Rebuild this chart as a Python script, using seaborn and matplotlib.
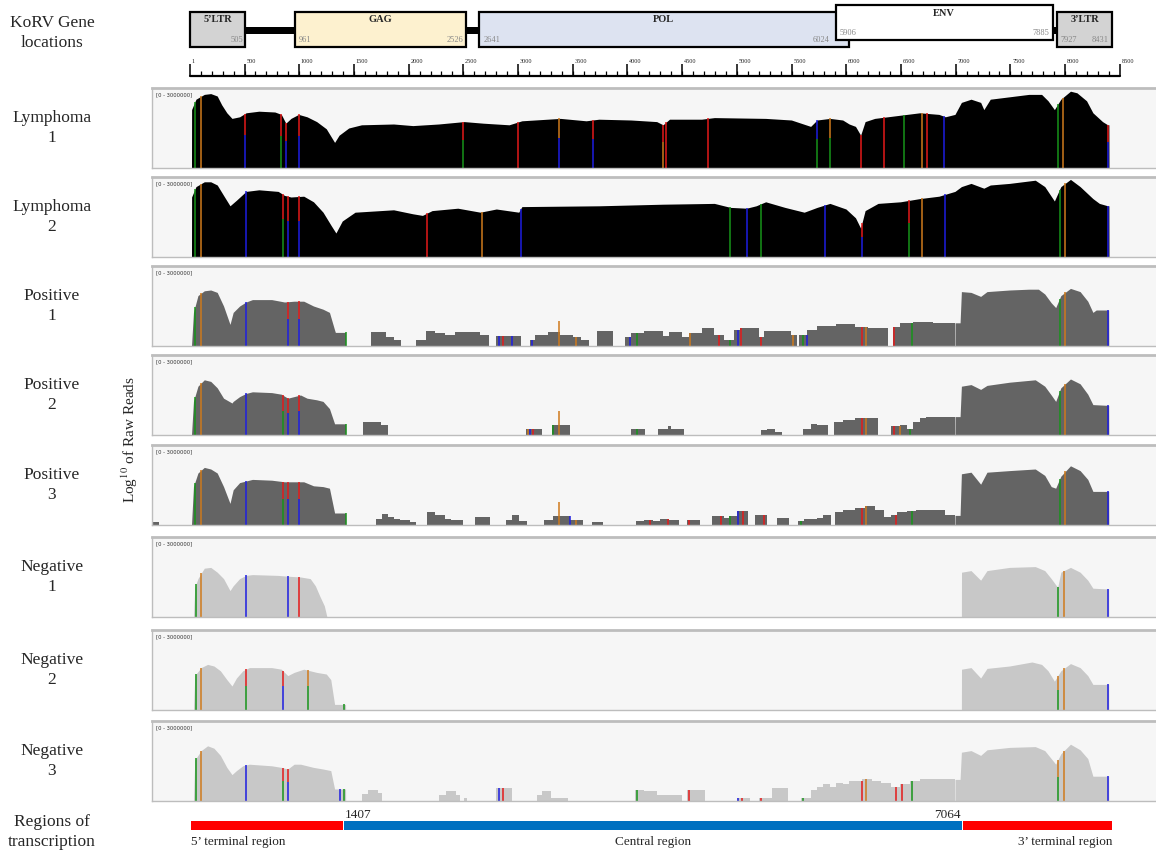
import numpy as np
import matplotlib.pyplot as plt
import seaborn as sns

W, H = 1156, 850
XLIM = (-346, 8849)

# ---- gene map ----
gene_names = ['5’LTR', 'GAG', 'POL', 'ENV', '3’LTR']
gene_starts = [1, 961, 2641, 5906, 7927]
gene_ends = [505, 2526, 6024, 7885, 8431]
gene_colors = ['#d3d3d3', '#fdf1cf', '#dde3f1', '#ffffff', '#d3d3d3']
link_starts = [505, 2526, 7885]
link_ends = [961, 2641, 7927]
ruler_labels = ['1'] + [str(v) for v in range(500, 8501, 500)]

# ---- regions of transcription ----
region_names = ['5’ terminal region', 'Central region', '3’ terminal region']
region_bounds = [1, 1407, 7064, 8431]
region_colors = ['#ff0000', '#0070c0', '#ff0000']

sample_labels = ['Lymphoma\n1', 'Lymphoma\n2', 'Positive\n1', 'Positive\n2',
                 'Positive\n3', 'Negative\n1', 'Negative\n2', 'Negative\n3']
sample_colors = ['#000000', '#000000', '#646464', '#646464', '#646464',
                 '#c8c8c8', '#c8c8c8', '#c8c8c8']

# coverage curves: (position bp, % of panel height)
lym1_curve = [(15, 0), (16, 73), (56, 86), (132, 92), (191, 93), (250, 90), (291, 79), (338, 69),
              (385, 62), (455, 64), (514, 69), (631, 71), (777, 70), (836, 67), (877, 56), (924, 62),
              (994, 67), (1071, 64), (1159, 58), (1247, 49), (1305, 36), (1323, 32), (1364, 41),
              (1452, 50), (1569, 54), (1862, 55), (2038, 53), (2273, 55), (2507, 58), (2683, 56),
              (2918, 54), (3035, 59), (3270, 61), (3387, 62), (3622, 59), (3739, 61), (4032, 60),
              (4267, 58), (4325, 54), (4384, 61), (4677, 61), (4794, 63), (5263, 62), (5498, 60),
              (5674, 52), (5733, 60), (5850, 62), (5967, 60), (6026, 55), (6084, 52), (6131, 41),
              (6172, 58), (6260, 62), (6378, 64), (6554, 67), (6671, 69), (6847, 67), (6905, 64),
              (6993, 67), (7052, 82), (7140, 86), (7228, 82), (7257, 73), (7316, 86), (7492, 89),
              (7668, 92), (7785, 92), (7844, 84), (7902, 73), (7961, 86), (8049, 96), (8108, 94),
              (8196, 84), (8254, 69), (8342, 58), (8389, 54), (8400, 54), (8401, 0)]
lym1_blocks = []
lym1_vars = [(45, 'g'), (103, 'o'), (502, 'br'), (836, 'gr'), (877, 'br'), (994, 'br'), (2496, 'gr'),
             (2996, 'r'), (3375, 'bo'), (3682, 'br'), (4325, 'or'), (4354, 'r'), (4736, 'r'),
             (5733, 'gb'), (5850, 'go'), (6131, 'r'), (6348, 'r'), (6524, 'g'), (6688, 'o'),
             (6741, 'r'), (6894, 'b'), (7932, 'g'), (7979, 'o'), (8395, 'br')]

lym2_curve = [(15, 0), (16, 75), (56, 88), (132, 94), (191, 94), (250, 90), (308, 77), (367, 64),
              (426, 71), (514, 82), (631, 84), (807, 82), (865, 77), (924, 75), (1041, 76), (1130, 69),
              (1217, 56), (1293, 39), (1335, 30), (1393, 45), (1510, 56), (1862, 59), (2038, 54),
              (2126, 52), (2214, 58), (2449, 61), (2654, 56), (2801, 60), (3006, 56), (3035, 63),
              (3739, 64), (4325, 66), (4794, 67), (4941, 62), (5088, 61), (5176, 64), (5263, 69),
              (5439, 62), (5615, 56), (5733, 62), (5850, 67), (5997, 60), (6084, 49), (6131, 36),
              (6172, 58), (6290, 67), (6495, 69), (6671, 73), (6847, 76), (6993, 82), (7052, 88),
              (7140, 92), (7257, 86), (7316, 90), (7492, 92), (7727, 96), (7814, 88), (7902, 70),
              (7961, 88), (8049, 97), (8137, 88), (8254, 73), (8313, 67), (8389, 64), (8400, 64),
              (8401, 0)]
lym2_blocks = []
lym2_vars = [(45, 'g'), (103, 'o'), (514, 'b'), (848, 'gr'), (895, 'br'), (1000, 'br'), (2167, 'r'),
             (2666, 'o'), (3023, 'b'), (4941, 'g'), (5088, 'b'), (5222, 'g'), (5803, 'b'),
             (6143, 'br'), (6571, 'gr'), (6688, 'o'), (6905, 'b'), (7949, 'g'), (8002, 'o'), (8395, 'b')]

pos1_curve = [(15, 0), (33, 42), (74, 63), (132, 69), (191, 70), (250, 67), (308, 50), (367, 27),
              (396, 42), (455, 50), (514, 55), (572, 58), (748, 58), (865, 55), (953, 56), (1041, 56),
              (1130, 50), (1217, 46), (1276, 42), (1323, 20), (1330, 17), (1423, 17), (1424, 0),
              (6993, 0), (6994, 29), (7040, 29), (7052, 68), (7140, 67), (7228, 62), (7286, 68),
              (7492, 70), (7668, 71), (7756, 71), (7814, 65), (7873, 54), (7914, 48), (7961, 63),
              (8049, 72), (8137, 68), (8207, 56), (8254, 42), (8284, 45), (8398, 45), (8399, 0)]
pos1_blocks = [(1657, 1792, 17), (1792, 1862, 11), (1862, 1933, 8), (2068, 2156, 8), (2156, 2243, 19),
               (2243, 2332, 16), (2332, 2419, 14), (2419, 2566, 17), (2566, 2654, 18), (2654, 2730, 14),
               (2801, 3023, 13), (3106, 3152, 7), (3152, 3270, 14), (3270, 3387, 18), (3387, 3504, 14),
               (3504, 3575, 11), (3575, 3651, 7), (3721, 3868, 19), (3974, 4032, 11), (4032, 4149, 16),
               (4149, 4325, 19), (4325, 4384, 12), (4384, 4501, 18), (4501, 4560, 11), (4560, 4677, 16),
               (4677, 4794, 22), (4794, 4882, 14), (4882, 4970, 8), (4970, 5029, 20), (5029, 5205, 22),
               (5205, 5252, 11), (5252, 5498, 19), (5498, 5545, 14), (5568, 5645, 14), (5645, 5733, 20),
               (5733, 5909, 25), (5909, 6084, 27), (6084, 6202, 24), (6202, 6378, 22), (6425, 6495, 24),
               (6495, 6612, 29), (6612, 6788, 30), (6788, 6993, 29)]
pos1_vars = [(45, 'g'), (103, 'o'), (514, 'b'), (895, 'br'), (1000, 'br'), (1423, 'g'), (2830, 'b'),
             (2859, 'r'), (2947, 'b'), (3123, 'b'), (3533, 'o'), (4020, 'b'), (4091, 'g'), (4572, 'o'),
             (4841, 'r'), (4941, 'g'), (5011, 'b'), (5041, 'r'), (5217, 'r'), (5516, 'o'), (5603, 'g'),
             (5645, 'b'), (6143, 'r'), (6184, 'o'), (6436, 'r'), (6600, 'g'), (7949, 'g'), (8002, 'o'),
             (8394, 'b')]
pos1_spike = [(3375, 31)]

pos2_curve = [(15, 0), (33, 42), (74, 61), (132, 69), (191, 67), (250, 59), (308, 46), (385, 40),
              (396, 42), (455, 48), (514, 52), (572, 54), (748, 53), (836, 51), (895, 46), (953, 48),
              (1012, 50), (1071, 46), (1159, 44), (1217, 42), (1276, 33), (1323, 14), (1423, 14),
              (1424, 0), (6993, 0), (6994, 23), (7040, 23), (7052, 61), (7140, 63), (7228, 57),
              (7286, 62), (7492, 66), (7727, 69), (7814, 61), (7873, 50), (7914, 42), (7961, 59),
              (8049, 70), (8137, 64), (8207, 51), (8254, 38), (8398, 37), (8399, 0)]
pos2_blocks = [(1581, 1745, 16), (1745, 1815, 12), (3076, 3223, 8), (3311, 3475, 12), (4032, 4161, 8),
               (4278, 4372, 8), (4372, 4395, 11), (4395, 4519, 8), (5217, 5275, 6), (5275, 5351, 8),
               (5351, 5410, 4), (5603, 5674, 7), (5674, 5733, 14), (5733, 5833, 12), (5891, 5967, 16),
               (5967, 6084, 19), (6084, 6290, 21), (6407, 6495, 11), (6495, 6554, 13), (6554, 6612, 8),
               (6612, 6671, 16), (6671, 6729, 21), (6729, 6993, 23)]
pos2_vars = [(45, 'g'), (103, 'o'), (514, 'b'), (848, 'gr'), (895, 'br'), (1000, 'br'), (1423, 'g'),
             (3090, 'o'), (3110, 'b'), (3135, 'r'), (3320, 'g'), (4091, 'g'), (6143, 'r'), (6184, 'o'),
             (6436, 'r'), (6495, 'o'), (6583, 'g'), (7949, 'g'), (8002, 'o'), (8394, 'b')]
pos2_spike = [(3375, 30)]

pos3_curve = [(15, 0), (33, 48), (74, 65), (132, 72), (191, 70), (250, 65), (308, 48), (367, 27),
              (396, 44), (455, 53), (514, 55), (572, 57), (748, 56), (865, 54), (953, 54), (1041, 54),
              (1130, 49), (1217, 48), (1276, 46), (1323, 15), (1423, 15), (1424, 0), (6993, 0),
              (6994, 12), (7040, 12), (7052, 64), (7140, 66), (7228, 51), (7286, 66), (7492, 68),
              (7727, 70), (7814, 62), (7873, 48), (7914, 46), (7961, 61), (8049, 74), (8137, 68),
              (8207, 57), (8254, 42), (8398, 42), (8399, 0)]
pos3_blocks = [(-337, -278, 4), (1698, 1757, 8), (1757, 1815, 14), (1815, 1862, 10), (1862, 1921, 8),
               (1921, 2009, 6), (2009, 2068, 4), (2167, 2243, 16), (2243, 2332, 12), (2332, 2390, 7),
               (2390, 2496, 6), (2607, 2742, 10), (2894, 2947, 6), (2947, 3006, 12), (3006, 3082, 5),
               (3240, 3317, 6), (3317, 3475, 11), (3475, 3592, 6), (3680, 3780, 4), (4079, 4149, 5),
               (4149, 4237, 6), (4237, 4296, 5), (4296, 4384, 8), (4384, 4472, 6), (4548, 4665, 6),
               (4771, 4882, 11), (4882, 4929, 9), (4929, 5000, 11), (5000, 5099, 17), (5164, 5275, 12),
               (5363, 5480, 9), (5557, 5615, 5), (5615, 5733, 7), (5733, 5791, 9), (5791, 5862, 12),
               (5897, 5967, 16), (5967, 6084, 19), (6084, 6172, 21), (6172, 6260, 24), (6260, 6348, 19),
               (6348, 6407, 10), (6407, 6466, 13), (6466, 6554, 16), (6554, 6641, 18), (6641, 6905, 19),
               (6905, 6993, 12)]
pos3_vars = [(45, 'g'), (103, 'o'), (514, 'b'), (848, 'gr'), (895, 'br'), (1000, 'br'), (1423, 'g'),
             (3475, 'b'), (3533, 'o'), (4208, 'r'), (4372, 'r'), (4560, 'r'), (4853, 'r'), (4941, 'g'),
             (5011, 'b'), (5058, 'r'), (5252, 'r'), (5586, 'g'), (6143, 'r'), (6184, 'o'), (6454, 'r'),
             (6600, 'g'), (7949, 'g'), (8002, 'o'), (8394, 'b')]
pos3_spike = [(3375, 29)]

neg1_curve = [(33, 0), (45, 37), (74, 48), (132, 61), (191, 62), (250, 56), (308, 48), (367, 33),
              (396, 39), (455, 48), (514, 52), (572, 53), (807, 52), (895, 51), (1012, 50), (1100, 48),
              (1147, 39), (1188, 26), (1229, 14), (1253, 0), (7052, 0), (7053, 56), (7140, 58),
              (7228, 46), (7286, 58), (7492, 62), (7727, 63), (7814, 58), (7873, 48), (7932, 37),
              (7961, 56), (8049, 62), (8137, 56), (8207, 46), (8254, 36), (8398, 35), (8399, 0)]
neg1_blocks = []
neg1_vars = [(56, 'g'), (103, 'o'), (514, 'b'), (895, 'b'), (1000, 'r'), (7932, 'g'), (7991, 'o'),
             (8394, 'b')]

neg2_curve = [(33, 0), (45, 43), (103, 53), (162, 57), (220, 55), (279, 49), (338, 38), (385, 30),
              (426, 40), (484, 49), (543, 53), (748, 53), (836, 51), (895, 43), (953, 47), (1041, 51),
              (1100, 49), (1159, 47), (1247, 45), (1288, 38), (1323, 7), (1423, 7), (1424, 0),
              (7052, 0), (7053, 51), (7140, 53), (7228, 40), (7286, 52), (7492, 55), (7697, 60),
              (7785, 57), (7844, 49), (7902, 36), (7961, 49), (8049, 58), (8137, 53), (8207, 43),
              (8254, 32), (8398, 32), (8399, 0)]
neg2_blocks = []
neg2_vars = [(56, 'g'), (103, 'o'), (514, 'gr'), (848, 'br'), (1082, 'go'), (1411, 'g'), (7932, 'go'),
             (7991, 'o'), (8394, 'b')]

neg3_curve = [(33, 0), (45, 51), (103, 63), (162, 69), (220, 66), (279, 57), (338, 42), (385, 33),
              (426, 38), (484, 44), (543, 46), (748, 44), (836, 42), (895, 40), (953, 46), (1012, 46),
              (1130, 42), (1217, 40), (1288, 38), (1323, 15), (1423, 15), (1424, 0), (6993, 0),
              (6994, 27), (7040, 27), (7052, 61), (7140, 63), (7228, 57), (7286, 64), (7492, 67),
              (7727, 68), (7814, 63), (7873, 53), (7914, 46), (7961, 59), (8049, 71), (8137, 64),
              (8207, 53), (8254, 31), (8398, 31), (8399, 0)]
neg3_blocks = [(1569, 1628, 9), (1628, 1716, 14), (1716, 1757, 10), (2273, 2343, 8), (2343, 2437, 13),
               (2437, 2466, 8), (2507, 2537, 4), (2801, 2947, 16), (3170, 3223, 8), (3223, 3299, 12),
               (3299, 3458, 4), (4073, 4149, 14), (4149, 4267, 12), (4267, 4501, 8), (4548, 4706, 14),
               (5000, 5117, 4), (5205, 5322, 4), (5322, 5469, 16), (5586, 5674, 4), (5674, 5733, 14),
               (5733, 5791, 18), (5791, 5850, 21), (5850, 5909, 18), (5909, 5967, 23), (5967, 6026, 21),
               (6026, 6143, 25), (6143, 6231, 27), (6231, 6319, 25), (6319, 6407, 23), (6407, 6495, 18),
               (6495, 6583, 21), (6583, 6671, 25), (6671, 6993, 27)]
neg3_vars = [(56, 'g'), (103, 'o'), (514, 'b'), (848, 'gr'), (895, 'br'), (1375, 'b'), (1411, 'g'),
             (2830, 'b'), (2859, 'r'), (4091, 'g'), (4560, 'r'), (5011, 'b'), (5047, 'r'), (5217, 'r'),
             (5603, 'g'), (6143, 'r'), (6184, 'o'), (6454, 'r'), (6507, 'r'), (6600, 'g'), (7932, 'go'),
             (7991, 'o'), (8394, 'b')]

samples = [(lym1_curve, lym1_blocks, lym1_vars, []),
           (lym2_curve, lym2_blocks, lym2_vars, []),
           (pos1_curve, pos1_blocks, pos1_vars, pos1_spike),
           (pos2_curve, pos2_blocks, pos2_vars, pos2_spike),
           (pos3_curve, pos3_blocks, pos3_vars, pos3_spike),
           (neg1_curve, neg1_blocks, neg1_vars, []),
           (neg2_curve, neg2_blocks, neg2_vars, []),
           (neg3_curve, neg3_blocks, neg3_vars, [])]
panel_tops = [88, 177, 266, 355, 445, 537, 630, 721]
PANEL_H = 80

SNP = {'g': '#17941a', 'b': '#1e1ee0', 'r': '#e41a1a', 'o': '#cf7a1c'}


def px_rect(x0, y0, x1, y1):
    return [x0 / W, 1 - y1 / H, (x1 - x0) / W, (y1 - y0) / H]


def cov_at(bp, curve, blocks):
    for s, e, h in blocks:
        if s <= bp <= e:
            return h
    xs, ys = zip(*curve)
    return np.interp(bp, xs, ys)


sns.set_theme(style='white')
plt.rcParams['font.family'] = ['Liberation Serif', 'DejaVu Serif']
plt.rcParams['mathtext.fontset'] = 'stix'

fig = plt.figure(figsize=(W / 100, H / 100), dpi=100)
fig.patch.set_facecolor('white')

# ---- gene map + ruler (y in pixel units) ----
gax = fig.add_axes(px_rect(152, 0, 1158, 84))
gax.set_xlim(XLIM)
gax.set_ylim(84, 0)
gax.axis('off')
for s, e in zip(link_starts, link_ends):
    gax.fill_between([s, e], 27, 34, color='black', lw=0)
for name, s, e, c in zip(gene_names, gene_starts, gene_ends, gene_colors):
    top, bot = (5, 40) if name == 'ENV' else (12, 47)
    gax.add_patch(plt.Rectangle((s, top), e - s, bot - top, facecolor=c, edgecolor='black', lw=1.6,
                                zorder=3 if name == 'ENV' else 2))
    gax.text((s + e) / 2, top + 8, name, ha='center', va='center', fontsize=7.5, fontweight='bold',
             zorder=4)
    if name == 'POL':
        gax.text(s + 40, bot - 7, str(s), ha='left', va='center', fontsize=6, color='#888888', zorder=4)
        gax.text(gene_starts[3] - 60, bot - 7, str(e), ha='right', va='center', fontsize=6,
                 color='#888888', zorder=4)
    elif name == '5’LTR':
        gax.text(e - 20, bot - 7, str(e), ha='right', va='center', fontsize=6, color='#888888', zorder=4)
    else:
        gax.text(s + 30, bot - 7, str(s), ha='left', va='center', fontsize=6, color='#888888', zorder=4)
        gax.text(e - 30, bot - 7, str(e), ha='right', va='center', fontsize=6, color='#888888', zorder=4)

gax.plot([1, 8500], [76, 76], color='black', lw=1.6)
minor = np.arange(100, 8500, 100)
gax.vlines(minor, 71, 76, color='black', lw=0.9)
major = [1] + list(range(500, 8501, 500))
gax.vlines(major, 64, 76, color='black', lw=1.1)
for m, lab in zip(major, ruler_labels):
    gax.text(m + 15, 64, lab, ha='left', va='bottom', fontsize=4.5, color='#222222')

# ---- coverage panels ----
for (curve, blocks, variants, spikes), top, col in zip(samples, panel_tops, sample_colors):
    ax = fig.add_axes(px_rect(152, top, 1158, top + PANEL_H))
    ax.set_facecolor('#f6f6f6')
    ax.set_xlim(XLIM)
    ax.set_ylim(0, 100)
    ax.set_xticks([])
    ax.set_yticks([])
    for side in ['left', 'right', 'bottom', 'top']:
        ax.spines[side].set_color('#bdbdbd')
        ax.spines[side].set_linewidth(1.0)
    ax.spines['top'].set_linewidth(2.0)
    xs, ys = zip(*curve)
    ax.fill_between(xs, 0, ys, color=col, lw=0)
    if blocks:
        bs = [b[0] for b in blocks]
        bw = [b[1] - b[0] for b in blocks]
        bh = [b[2] for b in blocks]
        ax.bar(bs, bh, width=bw, align='edge', color=col, lw=0)
    for bp, code in variants:
        h = cov_at(bp, curve, blocks)
        if len(code) == 1:
            ax.vlines(bp, 0, h, color=SNP[code], lw=1.1)
        else:
            ax.vlines(bp, 0, h * 0.6, color=SNP[code[0]], lw=1.1)
            ax.vlines(bp, h * 0.6, h, color=SNP[code[1]], lw=1.1)
    for bp, h in spikes:
        ax.vlines(bp, 0, h, color=SNP['o'], lw=1.1)
    ax.text(0.004, 0.95, '[0 - 3000000]', transform=ax.transAxes, ha='left', va='top',
            fontsize=3.8, family='DejaVu Sans', color='#333333')

# ---- regions of transcription ----
rax = fig.add_axes(px_rect(152, 805, 1158, 850))
rax.set_xlim(XLIM)
rax.set_ylim(850, 805)
rax.axis('off')
for i, c in enumerate(region_colors):
    s, e = region_bounds[i], region_bounds[i + 1]
    rax.barh(825, e - s - 12, left=s + 6, height=9, color=c, lw=0)
rax.text(region_bounds[1] + 10, 815, str(region_bounds[1]), ha='left', va='center', fontsize=9.5)
rax.text(region_bounds[2] - 15, 815, str(region_bounds[2]), ha='right', va='center', fontsize=9.5)
rax.text(region_bounds[0] + 10, 842, region_names[0], ha='left', va='center', fontsize=9.5)
rax.text((region_bounds[1] + region_bounds[2]) / 2, 842, region_names[1], ha='center', va='center',
         fontsize=9.5)
rax.text(region_bounds[3], 842, region_names[2], ha='right', va='center', fontsize=9.5)

# ---- left labels ----
fig.text(52 / W, 1 - 33 / H, 'KoRV Gene\nlocations', ha='center', va='center', fontsize=12.5,
         linespacing=1.3)
for lab, top in zip(sample_labels, panel_tops):
    fig.text(52 / W, 1 - (top + PANEL_H / 2) / H, lab, ha='center', va='center', fontsize=12.5,
             linespacing=1.3)
fig.text(52 / W, 1 - 832 / H, 'Regions of\ntranscription', ha='center', va='center', fontsize=12.5,
         linespacing=1.3)
fig.text(130 / W, 1 - 440 / H, r'Log$^{10}$ of Raw Reads', rotation=90, ha='center', va='center',
         fontsize=11)

fig.savefig('out.png', dpi=100)
